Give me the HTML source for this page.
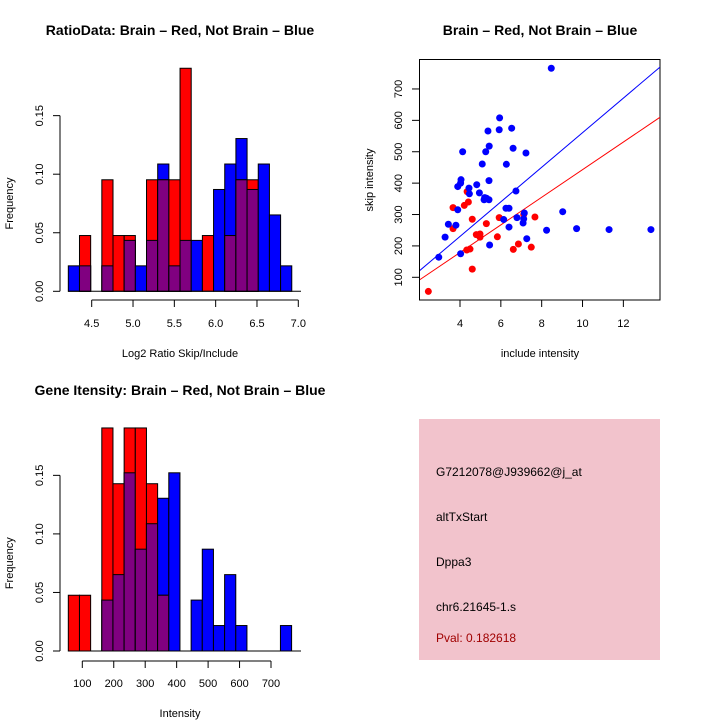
<!DOCTYPE html>
<html><head><meta charset="utf-8"><style>
html,body{margin:0;padding:0;background:#fff;}
svg text{font-family:"Liberation Sans",sans-serif;}
</style></head><body>
<svg id="chart" width="720" height="720" xmlns="http://www.w3.org/2000/svg">
<text x="180" y="35" font-size="14" font-weight="bold" text-anchor="middle">RatioData: Brain – Red, Not Brain – Blue</text>
<text x="540" y="35" font-size="14" font-weight="bold" text-anchor="middle">Brain – Red, Not Brain – Blue</text>
<text x="180" y="395" font-size="14" font-weight="bold" text-anchor="middle">Gene Itensity: Brain – Red, Not Brain – Blue</text>
<g id="h1"></g>
<g id="h2"></g>
<g id="sc"></g>
<g>
<rect x="419" y="419" width="241" height="241" fill="#f2c3cc"/>
<text x="436" y="476" font-size="12">G7212078@J939662@j_at</text>
<text x="436" y="521" font-size="12">altTxStart</text>
<text x="436" y="566" font-size="12">Dppa3</text>
<text x="436" y="611" font-size="12">chr6.21645-1.s</text>
<text x="436" y="642" font-size="12" fill="#a00000">Pval: 0.182618</text>
</g>
</svg>
<script>
// Histogram 1 data (Log2 ratio)
const h1Start = 4.217, h1Width = 0.1352;
const h1Red = [0,1,0,2,1,1,0,2,2,2,4,0,1,0,1,2,2,0,0,0];
const h1Blue = [1,1,0,1,0,2,1,2,5,1,2,2,0,4,5,6,4,5,3,1];
const h1XTicks = [4.5,5.0,5.5,6.0,6.5,7.0];
const h1XLabels = ["4.5","5.0","5.5","6.0","6.5","7.0"];
const yTicks = [0,0.05,0.10,0.15];
const yLabels = ["0.00","0.05","0.10","0.15"];
// Histogram 2 data (Intensity)
const h2Start = 55.5, h2Width = 35.5;
const h2Red = [1,1,0,4,3,4,4,3,1,0,0,0,0,0,0,0,0,0,0,0];
const h2Blue = [0,0,0,2,3,7,4,5,6,7,0,2,4,1,3,1,0,0,0,1];
const h2XTicks = [100,200,300,400,500,600,700];
const h2XLabels = ["100","200","300","400","500","600","700"];
// Scatter data
const blueX = [8.47,5.94,5.92,6.53,5.37,5.43,6.60,4.13,5.26,7.23,5.09,6.27,4.05,4.03,5.42,4.82,3.89,4.44,4.46,4.95,6.74,5.21,5.18,5.42,3.89,6.25,6.40,9.03,7.15,6.14,6.79,7.12,7.09,3.43,3.80,6.40,8.24,9.71,11.30,13.35,3.27,7.27,5.45,4.03,2.96,5.30];
const blueY = [766,608,570,575,566,518,511,500,500,496,461,460,411,400,408,395,389,384,366,369,375,354,347,347,315,320,320,309,305,284,290,286,273,269,266,260,250,255,252,252,228,223,203,175,164,352];
const redX = [2.45,3.66,3.66,4.21,4.41,4.35,4.60,5.29,5.92,7.67,4.80,4.98,4.98,5.83,4.33,4.49,6.86,6.61,7.49,4.60,7.12];
const redY = [55,322,255,329,340,373,285,271,290,292,236,238,228,229,187,190,206,189,196,126,300];
const scXTicks = [4,6,8,10,12];
const scYTicks = [100,200,300,400,500,600,700];
const blueLine = [[2.0,120],[13.8,770]];
const redLine = [[2.0,91],[13.8,610]];

const NS="http://www.w3.org/2000/svg";
function mk(parent,tag,attrs,txt){const e=document.createElementNS(NS,tag);for(const k in attrs)e.setAttribute(k,attrs[k]);if(txt!==undefined)e.textContent=txt;parent.appendChild(e);return e;}

function hist(g,start,width,red,blue,nR,nB,xPx,x0,yBase,xTicks,xLabels,xAxisY,tickLabY,xTitle,xTitleY){
  const yPx=v=>yBase-v*1171;
  for(let i=0;i<red.length;i++){
    const xa=xPx(start+i*width), xb=xPx(start+(i+1)*width);
    const fb=blue[i]/nB, fr=red[i]/nR;
    if(fb>0){const r=mk(g,'rect',{x:xa,y:yPx(fb),width:xb-xa,height:yBase-yPx(fb),fill:'#0000ff',stroke:'#000','stroke-width':1});
      
      }
    if(fr>0){const r=mk(g,'rect',{x:xa,y:yPx(fr),width:xb-xa,height:yBase-yPx(fr),fill:'#ff0000',stroke:'#000','stroke-width':1});
      
      }
    const o=Math.min(fb,fr);
    if(o>0){const r=mk(g,'rect',{x:xa,y:yPx(o),width:xb-xa,height:yBase-yPx(o),fill:'#800080',stroke:'#000','stroke-width':1});
      
      }
  }
  mk(g,'line',{x1:68,y1:yBase,x2:301,y2:yBase,stroke:'#000','stroke-width':1});
  mk(g,'line',{x1:60,y1:yPx(0),x2:60,y2:yPx(0.15),stroke:'#000'});
  yTicks.forEach((t,i)=>{mk(g,'line',{x1:53,y1:yPx(t),x2:60,y2:yPx(t),stroke:'#000'});
    const tx=mk(g,'text',{x:43,y:yPx(t),'font-size':11,'text-anchor':'middle',transform:`rotate(-90 43 ${yPx(t)})`},yLabels[i]);
    
    });
  const yl=mk(g,'text',{x:13,y:yPx(0.075),'font-size':11,'text-anchor':'middle',transform:`rotate(-90 13 ${yPx(0.075)})`},'Frequency');
  
  
  mk(g,'line',{x1:xPx(xTicks[0]),y1:xAxisY,x2:xPx(xTicks[xTicks.length-1]),y2:xAxisY,stroke:'#000'});
  xTicks.forEach((t,i)=>{mk(g,'line',{x1:xPx(t),y1:xAxisY,x2:xPx(t),y2:xAxisY+7,stroke:'#000'});
    const tx=mk(g,'text',{x:xPx(t),y:tickLabY,'font-size':11,'text-anchor':'middle'},xLabels[i]);
    
    });
  const xl=mk(g,'text',{x:180,y:xTitleY,'font-size':11,'text-anchor':'middle'},xTitle);
  
  
}
hist(document.getElementById('h1'),h1Start,h1Width,h1Red,h1Blue,21,46,v=>91.7+(v-4.5)*82.64,68,291.3,h1XTicks,h1XLabels,300,327,'Log2 Ratio Skip/Include',357);
hist(document.getElementById('h2'),h2Start,h2Width,h2Red,h2Blue,21,46,v=>82.3+(v-100)*0.3145,68,651,h2XTicks,h2XLabels,661,687,'Intensity',717);

const sc=document.getElementById('sc');
const sx=v=>460+(v-4)*20.42, sy=v=>277.3-(v-100)*0.3139;
mk(sc,'rect',{x:419.5,y:59.5,width:240.5,height:240.5,fill:'none',stroke:'#000'});
scXTicks.forEach(t=>{mk(sc,'line',{x1:sx(t),y1:300,x2:sx(t),y2:307,stroke:'#000'});
  const tx=mk(sc,'text',{x:sx(t),y:327,'font-size':11,'text-anchor':'middle'},String(t));
  
  });
scYTicks.forEach(t=>{mk(sc,'line',{x1:412,y1:sy(t),x2:419.5,y2:sy(t),stroke:'#000'});
  const tx=mk(sc,'text',{x:402,y:sy(t),'font-size':11,'text-anchor':'middle',transform:`rotate(-90 402 ${sy(t)})`},String(t));
  
  });
const sxl=mk(sc,'text',{x:540,y:357,'font-size':11,'text-anchor':'middle'},'include intensity');


const syl=mk(sc,'text',{x:373,y:180,'font-size':11,'text-anchor':'middle',transform:'rotate(-90 373 180)'},'skip intensity');


const cp=mk(sc,'clipPath',{id:'scclip'});
mk(cp,'rect',{x:420,y:60,width:240,height:240});
const clip=mk(sc,'g',{'clip-path':'url(#scclip)'});
const bl=mk(clip,'line',{x1:sx(blueLine[0][0]),y1:sy(blueLine[0][1]),x2:sx(blueLine[1][0]),y2:sy(blueLine[1][1]),stroke:'#0000ff','stroke-width':1});


const rl=mk(clip,'line',{x1:sx(redLine[0][0]),y1:sy(redLine[0][1]),x2:sx(redLine[1][0]),y2:sy(redLine[1][1]),stroke:'#ff0000','stroke-width':1});


redX.forEach((x,i)=>{const c=mk(sc,'circle',{cx:sx(x),cy:sy(redY[i]),r:3.5,fill:'#ff0000'});
  
  });
blueX.forEach((x,i)=>{const c=mk(sc,'circle',{cx:sx(x),cy:sy(blueY[i]),r:3.5,fill:'#0000ff'});
  
  });
</script>
</body></html>
